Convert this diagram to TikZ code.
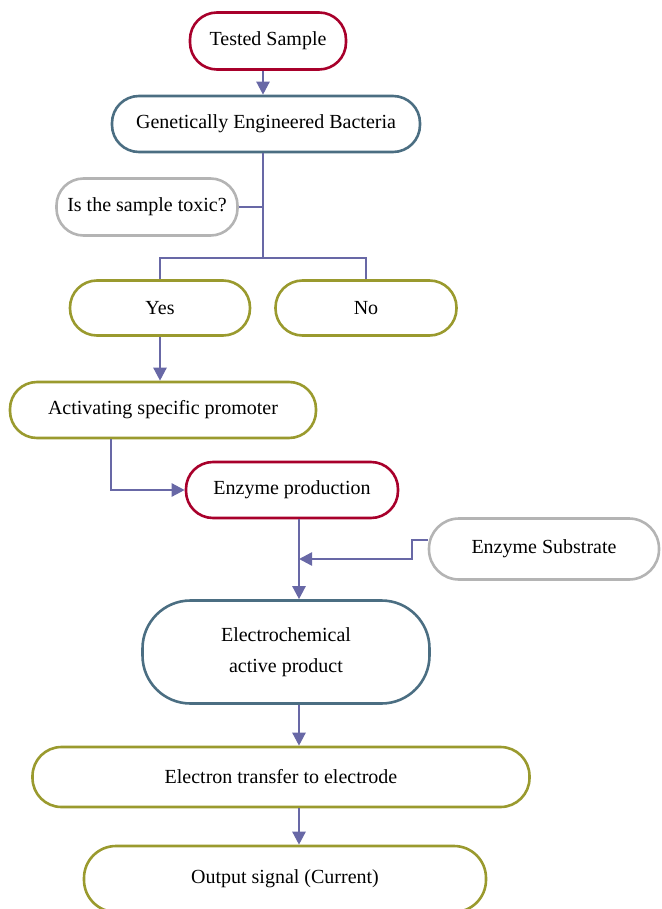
\documentclass[tikz,border=0pt]{standalone}
\usepackage{fontspec}
\setmainfont{Liberation Serif}
\usetikzlibrary{calc}
\usetikzlibrary{arrows.meta}

\definecolor{boxred}{HTML}{A8002B}
\definecolor{boxslate}{HTML}{4B6E82}
\definecolor{boxolive}{HTML}{9A9A2E}
\definecolor{boxgray}{HTML}{B4B4B4}
\definecolor{linkblue}{HTML}{6868A6}

\tikzset{
  box/.style={draw=#1, line width=2.6pt, rounded corners=27pt, inner sep=0pt,
    align=center, font=\fontsize{20}{31}\selectfont},
  link/.style={draw=linkblue, line width=1.5pt},
  arrow/.style={link, line width=2.4pt, -{Triangle[width=13pt,length=13pt]}}
}

\begin{document}
\begin{tikzpicture}[x=1pt, y=-1pt]
    \useasboundingbox (0,0) rectangle (661,909);
    \coordinate (stem) at (263,0);
    \coordinate (spine) at (299,0);
    \coordinate (fork) at (263,258);
    \node[box=boxred, minimum width=156pt, minimum height=57pt] (sample) at (268,41) {Tested Sample};
    \node[box=boxslate, minimum width=308pt, minimum height=56pt] (bacteria) at (266,124) {Genetically Engineered Bacteria};
    \node[box=boxgray, minimum width=181pt, minimum height=57pt] (toxic) at (147,207) {Is the sample toxic?};
    \node[box=boxolive, minimum width=180pt, minimum height=55pt] (yes) at (160,308) {Yes};
    \node[box=boxolive, minimum width=181pt, minimum height=55pt] (no) at (366,308) {No};
    \node[box=boxolive, minimum width=306pt, minimum height=56pt] (promoter) at (163,410) {Activating specific promoter};
    \node[box=boxred, minimum width=212pt, minimum height=56pt] (enzyme) at (292,490) {Enzyme production};
    \node[box=boxgray, minimum width=230pt, minimum height=61pt, rounded corners=30pt] (substrate) at (544,549) {Enzyme Substrate};
    \node[box=boxslate, minimum width=287pt, minimum height=103pt, rounded corners=48pt] (product) at (286,652) {Electrochemical\\active product};
    \node[box=boxolive, minimum width=497pt, minimum height=60pt, rounded corners=29pt] (transfer) at (281,777) {Electron transfer to electrode};
    \node[box=boxolive, minimum width=402pt, minimum height=66pt, rounded corners=32pt] (output) at (285,879) {Output signal (Current)};
    \coordinate (join) at (spine |- 0,559);
    \draw[arrow] (sample.south -| stem) -- (bacteria.north -| stem);
    \draw[link] (bacteria.south -| stem) -- (fork);
    \draw[link] (toxic.east) -- (toxic.east -| fork);
    \draw[link] (yes.north) -- (yes.north |- fork) -- (no.north |- fork) -- (no.north);
    \draw[arrow] (yes.south) -- (yes.south |- promoter.north);
    \draw[arrow] ([xshift=-52pt]promoter.south) |- (enzyme.west);
    \draw[arrow] (enzyme.south -| spine) -- (product.north -| spine);
    \draw[arrow] ([yshift=9pt]substrate.west) -- ++(-16,0) |- (join);
    \draw[arrow] (product.south -| spine) -- (transfer.north -| spine);
    \draw[arrow] (transfer.south -| spine) -- (output.north -| spine);
  \end{tikzpicture}
\end{document}
